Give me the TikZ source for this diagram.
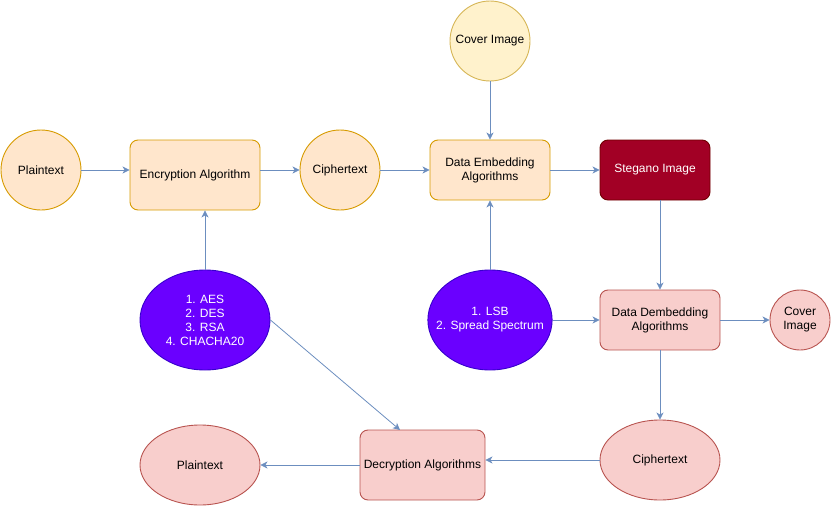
\documentclass[tikz,border=0pt]{standalone}
\usepackage{fontspec}
\setmainfont{Liberation Sans}
\usetikzlibrary{shapes.geometric,arrows.meta}
\definecolor{ofill}{HTML}{FFE6CC}
\definecolor{odraw}{HTML}{D79B00}
\definecolor{yfill}{HTML}{FFF2CC}
\definecolor{ydraw}{HTML}{D6B656}
\definecolor{pfill}{HTML}{F8CECC}
\definecolor{pdraw}{HTML}{B85450}
\definecolor{sfill}{HTML}{A20025}
\definecolor{sdraw}{HTML}{6F0000}
\definecolor{vfill}{HTML}{6A00FF}
\definecolor{vdraw}{HTML}{3700CC}
\definecolor{arr}{HTML}{6C8EBF}
\begin{document}
\begin{tikzpicture}[x=1pt,y=-1pt,
  every node/.style={font=\fontsize{12}{14}\selectfont, align=center, inner sep=0pt, line width=0.9pt},
  ocirc/.style={circle, draw=odraw, fill=ofill, minimum size=80pt},
  obox/.style={rectangle, rounded corners=8pt, draw=odraw, fill=ofill},
  pbox/.style={rectangle, rounded corners=8pt, draw=pdraw, fill=pfill},
  pell/.style={ellipse, draw=pdraw, fill=pfill},
  vell/.style={ellipse, draw=vdraw, fill=vfill, text=white},
  conn/.style={draw=arr, -{Stealth[length=7pt,width=7pt,inset=2pt]}, line width=0.8pt}
]
\useasboundingbox (0,0) rectangle (831,506);
\node[ocirc] (pt1) at (41,170) {Plaintext};
\node[obox, minimum width=130pt, minimum height=70pt] (enc) at (195,175) {Encryption Algorithm};
\node[ocirc] (ct1) at (340,170) {Ciphertext};
\node[circle, draw=ydraw, fill=yfill, minimum size=80pt] (cov1) at (490,41) {Cover Image};
\node[obox, minimum width=120pt, minimum height=60pt] (emb) at (490,170) {Data Embedding\\Algorithms};
\node[rectangle, rounded corners=8pt, draw=sdraw, fill=sfill, text=white, minimum width=110pt, minimum height=60pt] (steg) at (655,170) {Stegano Image};
\node[vell, minimum width=130pt, minimum height=100pt] (algs) at (205,320) {1. AES\\2. DES\\3. RSA\\4. CHACHA20};
\node[vell, inner xsep=-10pt, minimum width=120pt, minimum height=100pt] (lsb) at (490,320) {1. LSB\\2. Spread Spectrum};
\node[pbox, minimum width=120pt, minimum height=60pt] (deb) at (660,320) {Data Dembedding\\Algorithms};
\node[circle, draw=pdraw, fill=pfill, minimum size=60pt] (cov2) at (800,320) {Cover\\Image};
\node[pell, minimum width=120pt, minimum height=80pt] (ct2) at (660,460) {Ciphertext};
\node[pbox, minimum width=125pt, minimum height=70pt] (dec) at (422.5,465) {Decryption Algorithms};
\node[pell, minimum width=120pt, minimum height=80pt] (pt2) at (200,465) {Plaintext};
\coordinate (decin) at (400,430);

\draw[conn] (pt1.east) -- (pt1.east -| enc.west);
\draw[conn] (enc.east |- ct1.west) -- (ct1.west);
\draw[conn] (ct1.east) -- (ct1.east -| emb.west);
\draw[conn] (cov1.south) -- (emb.north);
\draw[conn] (emb.east) -- (steg.west);
\draw[conn] (algs.north) -- (algs.north |- enc.south);
\draw[conn] (lsb.north) -- (emb.south);
\draw[conn] (deb.north |- steg.south) -- (deb.north);
\draw[conn] (lsb.east) -- (deb.west);
\draw[conn] (deb.east) -- (cov2.west);
\draw[conn] (deb.south) -- (ct2.north);
\draw[conn] (algs.east) -- (decin);
\draw[conn] (ct2.west) -- (ct2.west -| dec.east);
\draw[conn] (dec.west |- pt2.east) -- (pt2.east);
\end{tikzpicture}
\end{document}
